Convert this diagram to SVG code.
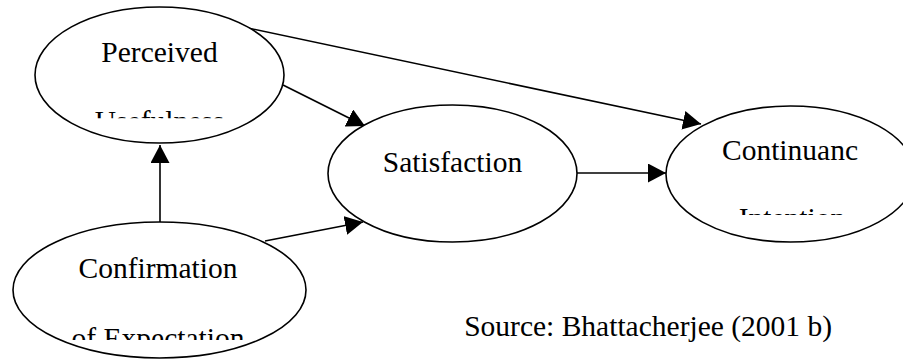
<svg xmlns="http://www.w3.org/2000/svg" width="903" height="362" viewBox="0 0 903 362">
  <style>
    .node ellipse { fill: #ffffff; stroke: #000000; stroke-width: 1.6; }
    .node text, .label { font-family: "Liberation Serif", "Times New Roman", serif; font-size: 29.5px; fill: #000000; text-anchor: middle; }
    .label { text-anchor: end; }
    .edge { stroke: #000000; stroke-width: 1.6; fill: none; marker-end: url(#arr); }
  </style>
  <defs>
    <marker id="arr" markerWidth="18" markerHeight="19" refX="18" refY="9.5" orient="auto" markerUnits="userSpaceOnUse">
      <path d="M0,0 L18,9.5 L0,19 z" fill="#000000"/>
    </marker>
    <clipPath id="clipPU"><rect x="0" y="0" width="903" height="118.3"/></clipPath>
    <clipPath id="clipCI"><rect x="0" y="0" width="903" height="215"/></clipPath>
    <clipPath id="clipCE"><rect x="0" y="0" width="903" height="340"/></clipPath>
  </defs>
  <rect x="0" y="0" width="903" height="362" fill="#ffffff"/>

  <g id="connectors">
    <line class="edge" x1="160" y1="222" x2="160" y2="145"/>
    <line class="edge" x1="283" y1="85" x2="365" y2="126"/>
    <line class="edge" x1="248" y1="28" x2="701" y2="124"/>
    <line class="edge" x1="577" y1="173" x2="666" y2="173"/>
    <line class="edge" x1="265" y1="241" x2="363" y2="222"/>
  </g>

  <g id="perceived-usefulness" class="node">
    <ellipse cx="159.5" cy="75" rx="124.5" ry="68"/>
    <text x="159.5" y="62">Perceived</text>
    <text x="159.5" y="131" clip-path="url(#clipPU)">Usefulness</text>
  </g>

  <g id="satisfaction" class="node">
    <ellipse cx="452.5" cy="173.5" rx="124.5" ry="68.5"/>
    <text x="452.5" y="172">Satisfaction</text>
  </g>

  <g id="continuance-intention" class="node">
    <ellipse cx="790.5" cy="174" rx="124.5" ry="68"/>
    <text x="790" y="160">Continuanc</text>
    <text x="792" y="228" clip-path="url(#clipCI)">Intention</text>
  </g>

  <g id="confirmation-expectation" class="node">
    <ellipse cx="159.5" cy="290" rx="146.5" ry="68"/>
    <text x="158" y="278">Confirmation</text>
    <text x="158" y="348" clip-path="url(#clipCE)">of Expectation</text>
  </g>

  <text class="label" x="832" y="336">Source: Bhattacherjee (2001 b)</text>
</svg>
